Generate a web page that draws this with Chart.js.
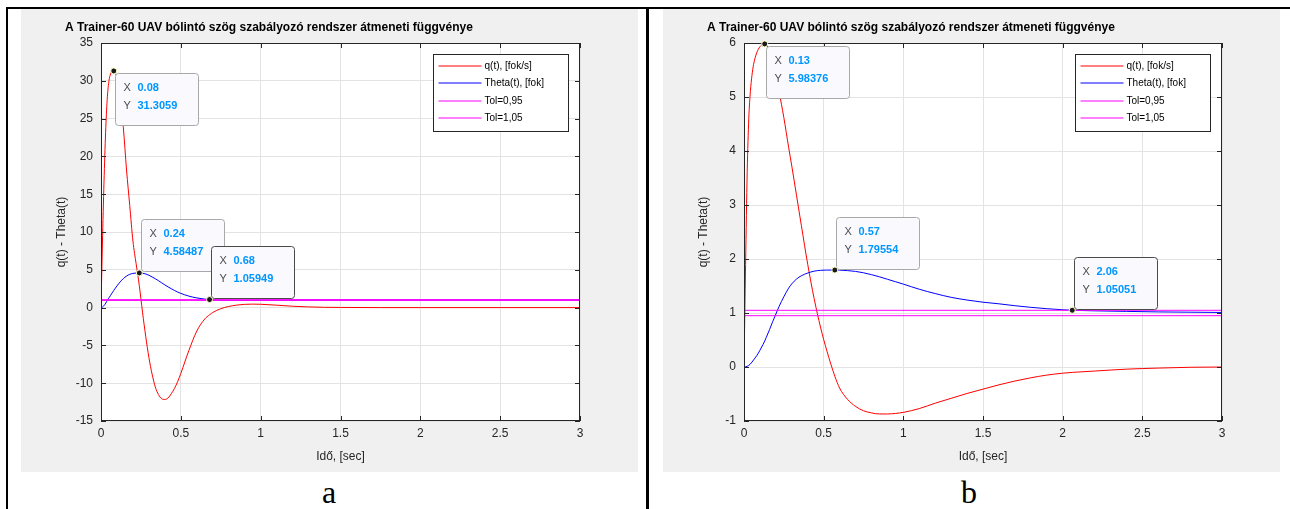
<!DOCTYPE html>
<html>
<head>
<meta charset="utf-8">
<script src="https://cdn.jsdelivr.net/npm/chart.js@4.4.1/dist/chart.umd.min.js"></script>
<style>
  body { margin: 0; width: 1290px; height: 509px; background: #fff; position: relative; overflow: hidden; }
  .rule { position: absolute; background: #000; }
  .panel { position: absolute; top: 9px; width: 617px; height: 463px; background: #f0f0f0; }
  .panel canvas { position: absolute; left: 0; top: 0; }
  .cap { position: absolute; top: 474px; width: 40px; text-align: center; font: 32px "Liberation Serif", "Times New Roman", serif; color: #000; }
</style>
</head>
<body>
<div class="rule" style="left:6px;top:7px;width:1284px;height:2px"></div>
<div class="rule" style="left:6px;top:7px;width:2px;height:502px"></div>
<div class="rule" style="left:646px;top:7px;width:3px;height:502px"></div>

<div class="panel" style="left:21px"><canvas id="chartA" width="617" height="463"></canvas></div>
<div class="panel" style="left:663px"><canvas id="chartB" width="617" height="463"></canvas></div>

<div class="cap" style="left:309px">a</div>
<div class="cap" style="left:949px">b</div>

<script>
// time axis and tick values
const xTicks = [0, 0.5, 1, 1.5, 2, 2.5, 3];
const yTicksA = [-15, -10, -5, 0, 5, 10, 15, 20, 25, 30, 35];
const yTicksB = [-1, 0, 1, 2, 3, 4, 5, 6];

const seriesNames = ['q(t), [fok/s]', 'Theta(t), [fok]', 'Tol=0,95', 'Tol=1,05'];
const tolLow = 0.95;
const tolHigh = 1.05;

// case a
const tA = [0, 0.01, 0.02, 0.03, 0.04, 0.05, 0.06, 0.07, 0.08, 0.09, 0.10, 0.11, 0.12, 0.13, 0.14, 0.16, 0.18, 0.20, 0.22, 0.24,
  0.26, 0.28, 0.30, 0.32, 0.34, 0.36, 0.38, 0.40, 0.42, 0.44, 0.46, 0.48, 0.50, 0.55, 0.60, 0.65, 0.68, 0.70, 0.75, 0.80,
  0.85, 0.90, 0.95, 1.00, 1.10, 1.20, 1.30, 1.40, 1.50, 1.75, 2.00, 2.50, 3.00];
const qA = [0, 9.5, 17.5, 23.8, 27.9, 30.0, 30.9, 31.25, 31.3059, 31.0, 30.3, 29.2, 27.7, 25.9, 23.8, 18.2, 13.5, 8.8, 5.8, 2.9,
  -0.6, -3.8, -6.6, -8.8, -10.5, -11.5, -12.05, -12.15, -11.95, -11.4, -10.7, -9.8, -8.7, -5.7, -3.1, -1.5, -0.95, -0.65, -0.15, 0.15,
  0.33, 0.43, 0.46, 0.44, 0.32, 0.18, 0.09, 0.04, 0.02, 0, 0, 0, 0];
const thetaA = [0, 0.08, 0.3, 0.6, 1.0, 1.3, 1.62, 1.95, 2.27, 2.57, 2.87, 3.14, 3.4, 3.63, 3.84, 4.17, 4.4, 4.52, 4.575, 4.58487,
  4.55, 4.45, 4.28, 4.06, 3.82, 3.56, 3.28, 3.0, 2.74, 2.5, 2.27, 2.06, 1.88, 1.52, 1.28, 1.12, 1.05949, 1.03, 0.98, 0.96,
  0.955, 0.96, 0.97, 0.98, 0.99, 1.0, 1.0, 1.0, 1.0, 1.0, 1.0, 1.0, 1.0];
const tipXA = [0.08, 0.24, 0.68];
const tipYA = [31.3059, 4.58487, 1.05949];

// case b
const tB = [0, 0.01, 0.02, 0.03, 0.04, 0.05, 0.06, 0.08, 0.10, 0.12, 0.13, 0.14, 0.16, 0.18, 0.20, 0.22, 0.25, 0.28, 0.30, 0.33,
  0.36, 0.40, 0.44, 0.48, 0.52, 0.57, 0.60, 0.65, 0.70, 0.75, 0.80, 0.85, 0.90, 0.95, 1.0, 1.1, 1.2, 1.3, 1.4, 1.5,
  1.6, 1.7, 1.8, 1.9, 2.0, 2.06, 2.2, 2.4, 2.6, 2.8, 3.0];
const qB = [0, 1.9, 3.6, 4.6, 5.1, 5.4, 5.6, 5.82, 5.93, 5.98, 5.98376, 5.97, 5.85, 5.65, 5.4, 5.1, 4.62, 4.07, 3.72, 3.17,
  2.62, 1.9, 1.27, 0.74, 0.3, -0.17, -0.39, -0.6, -0.73, -0.81, -0.85, -0.87, -0.87, -0.86, -0.84, -0.77, -0.67, -0.58, -0.49, -0.41,
  -0.33, -0.26, -0.2, -0.15, -0.115, -0.1, -0.075, -0.04, -0.02, -0.005, 0];
const thetaB = [0, 0.003, 0.013, 0.03, 0.055, 0.09, 0.13, 0.21, 0.31, 0.42, 0.48, 0.55, 0.69, 0.84, 0.98, 1.12, 1.3, 1.46, 1.54, 1.63,
  1.69, 1.74, 1.775, 1.79, 1.795, 1.79554, 1.794, 1.785, 1.77, 1.745, 1.71, 1.67, 1.625, 1.58, 1.535, 1.44, 1.36, 1.29, 1.24, 1.2,
  1.17, 1.135, 1.105, 1.08, 1.06, 1.05051, 1.04, 1.03, 1.02, 1.015, 1.01];
const tipXB = [0.13, 0.57, 2.06];
const tipYB = [5.98376, 1.79554, 1.05051];

const FONT = '"Liberation Sans", Arial, sans-serif';
const AXIS_COLOR = '#262626';
const lineColors = ['#ff0000', '#0000ff', '#ff00ff', '#ff00ff'];

Chart.defaults.font.family = FONT;
Chart.defaults.font.size = 12;
Chart.defaults.color = AXIS_COLOR;

// box, inward ticks, title, legend and data tips in the MATLAB figure style
const figureDecor = {
  id: 'figureDecor',
  beforeDraw(chart) {
    const { ctx, chartArea: a } = chart;
    ctx.save();
    ctx.fillStyle = '#fff';
    ctx.fillRect(a.left, a.top, a.width, a.height);
    ctx.restore();
  },
  afterDraw(chart, args, opts) {
    const { ctx, chartArea: a, scales: { x, y } } = chart;
    ctx.save();

    ctx.font = 'bold 12px ' + FONT;
    ctx.fillStyle = '#000';
    ctx.textBaseline = 'middle';
    ctx.textAlign = 'left';
    ctx.fillText(opts.title, 44, 19);

    ctx.strokeStyle = AXIS_COLOR;
    ctx.lineWidth = 1;
    ctx.strokeRect(a.left + 0.5, a.top + 0.5, a.width - 1, a.height - 1);
    ctx.beginPath();
    x.ticks.forEach(t => {
      const px = Math.round(x.getPixelForValue(t.value)) + 0.5;
      ctx.moveTo(px, a.bottom); ctx.lineTo(px, a.bottom - 5);
      ctx.moveTo(px, a.top); ctx.lineTo(px, a.top + 5);
    });
    y.ticks.forEach(t => {
      const py = Math.round(y.getPixelForValue(t.value)) + 0.5;
      ctx.moveTo(a.left, py); ctx.lineTo(a.left + 5, py);
      ctx.moveTo(a.right, py); ctx.lineTo(a.right - 5, py);
    });
    ctx.stroke();

    // legend
    const lw = 135, lh = 77;
    const lx = Math.round(a.right - 12 - lw) + 0.5, ly = Math.round(a.top + 11) + 0.5;
    ctx.fillStyle = '#fff';
    ctx.fillRect(lx, ly, lw, lh);
    ctx.strokeStyle = AXIS_COLOR;
    ctx.strokeRect(lx, ly, lw, lh);
    ctx.font = '10px ' + FONT;
    ctx.fillStyle = '#000';
    chart.data.datasets.forEach((ds, i) => {
      const ry = Math.round(ly + 11.5 + i * 17.3);
      ctx.strokeStyle = ds.borderColor;
      ctx.beginPath();
      ctx.moveTo(lx + 5, ry); ctx.lineTo(lx + 48, ry);
      ctx.stroke();
      ctx.fillText(ds.label, lx + 51, ry + 0.5);
    });

    // data tips
    const tx = opts.tipX, ty = opts.tipY;
    tx.forEach((vx, i) => {
      const px = x.getPixelForValue(vx), py = y.getPixelForValue(ty[i]);
      const bw = 83, bh = 52;
      const bx = Math.round(px + 1.5) + 0.5;
      const by = (py - bh - 2 < a.top) ? Math.round(py + 2) + 0.5 : Math.round(py - bh - 1.5) + 0.5;
      ctx.beginPath();
      ctx.roundRect(bx, by, bw, bh, 3);
      ctx.fillStyle = '#f9f9fe';
      ctx.fill();
      ctx.strokeStyle = i === tx.length - 1 ? '#4a4a4a' : '#a8a8a8';
      ctx.stroke();

      ctx.font = '11px ' + FONT;
      ctx.fillStyle = '#4d4d4d';
      ctx.fillText('X', bx + 8, by + 14);
      ctx.fillText('Y', bx + 8, by + 32);
      ctx.font = 'bold 11px ' + FONT;
      ctx.fillStyle = 'rgb(0,150,255)';
      ctx.fillText(String(vx), bx + 22, by + 14);
      ctx.fillText(String(ty[i]), bx + 22, by + 32);

      ctx.beginPath();
      ctx.arc(px, py, 3, 0, Math.PI * 2);
      ctx.fillStyle = '#1a1a1a';
      ctx.fill();
      ctx.strokeStyle = '#ffffcc';
      ctx.stroke();
    });

    ctx.restore();
  }
};

function points(t, v) {
  return t.map((x, i) => ({ x: x, y: v[i] }));
}

function makeChart(id, t, q, theta, yTicks, leftWidth, tipX, tipY) {
  const tEnd = xTicks[xTicks.length - 1];
  const series = [
    points(t, q),
    points(t, theta),
    [{ x: 0, y: tolLow }, { x: tEnd, y: tolLow }],
    [{ x: 0, y: tolHigh }, { x: tEnd, y: tolHigh }]
  ];
  return new Chart(document.getElementById(id), {
    type: 'line',
    data: {
      datasets: series.map((d, i) => ({
        label: seriesNames[i],
        data: d,
        borderColor: lineColors[i],
        borderWidth: 1,
        pointRadius: 0,
        fill: false,
        cubicInterpolationMode: 'monotone',
        order: 3 - i
      }))
    },
    options: {
      responsive: false,
      animation: false,
      layout: { padding: { left: 0, right: 58, top: 34, bottom: 0 } },
      plugins: {
        legend: { display: false },
        tooltip: { enabled: false },
        figureDecor: {
          title: 'A Trainer-60 UAV bólintó szög szabályozó rendszer átmeneti függvénye',
          tipX: tipX,
          tipY: tipY
        }
      },
      scales: {
        x: {
          type: 'linear',
          min: xTicks[0],
          max: tEnd,
          afterBuildTicks: s => { s.ticks = xTicks.map(v => ({ value: v })); },
          afterFit: s => { s.height = 51; },
          grid: { color: '#e3e3e3', drawTicks: false },
          border: { display: false },
          ticks: { padding: 5, maxRotation: 0, autoSkip: false, callback: v => String(v) },
          title: { display: true, text: 'Idő, [sec]', padding: { top: 0, bottom: 8 } }
        },
        y: {
          type: 'linear',
          min: yTicks[0],
          max: yTicks[yTicks.length - 1],
          afterBuildTicks: s => { s.ticks = yTicks.map(v => ({ value: v })); },
          afterFit: s => { s.width = leftWidth; },
          grid: { color: '#e3e3e3', drawTicks: false },
          border: { display: false },
          ticks: { padding: 8, autoSkip: false, callback: v => String(v) },
          title: { display: true, text: 'q(t) - Theta(t)', padding: { top: 33, bottom: 0 } }
        }
      }
    },
    plugins: [figureDecor]
  });
}

makeChart('chartA', tA, qA, thetaA, yTicksA, 80, tipXA, tipYA);
makeChart('chartB', tB, qB, thetaB, yTicksB, 81, tipXB, tipYB);
</script>
</body>
</html>
